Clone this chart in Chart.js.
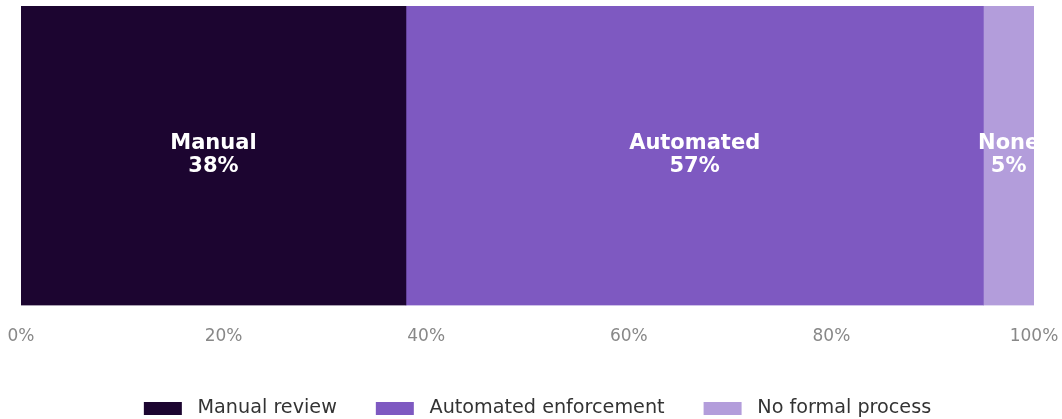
<!DOCTYPE html>
<html>
<head>
<meta charset="utf-8">
<script src="https://cdn.jsdelivr.net/npm/chart.js@4"></script>
<style>
  html, body { margin: 0; padding: 0; background: #fff; }
  #wrap { width: 1062px; height: 419px; }
</style>
</head>
<body>
<div id="wrap"><canvas id="processChart"></canvas></div>
<script>
// Data
const categories = ["Process"];
const seriesNames = ["Manual review", "Automated enforcement", "No formal process"];
const shortLabels = ["Manual", "Automated", "None"];
const seriesValues = [38, 57, 5];
const seriesColors = ["#1c0530", "#7e59c1", "#b39ddb"];
const xTicks = [0, 20, 40, 60, 80, 100];

// Draw the label text in the middle of each segment
const segmentLabels = {
  id: "segmentLabels",
  afterDatasetsDraw(chart) {
    const ctx = chart.ctx;
    ctx.save();
    ctx.fillStyle = "#ffffff";
    ctx.font = "bold 21px 'DejaVu Sans'";
    ctx.textAlign = "center";
    ctx.textBaseline = "middle";
    chart.data.datasets.forEach((ds, i) => {
      const bar = chart.getDatasetMeta(i).data[0];
      const x = (bar.x + bar.base) / 2;
      ctx.fillText(shortLabels[i], x, bar.y - 12);
      ctx.fillText(ds.data[0] + "%", x, bar.y + 11);
    });
    ctx.restore();
  },
};

// nudge the legend a bit to the right, like the original
const legendShift = {
  id: "legendShift",
  afterLayout(chart) {
    if (chart.legend) {
      chart.legend.left += 10;
      chart.legend.right += 10;
    }
  },
};

const ctx = document.getElementById("processChart").getContext("2d");
new Chart(ctx, {
  type: "bar",
  data: {
    labels: categories,
    datasets: seriesNames.map((name, i) => ({
      label: name,
      data: [seriesValues[i]],
      backgroundColor: seriesColors[i],
      borderWidth: 0,
      barPercentage: 1,
      categoryPercentage: 1,
    })),
  },
  options: {
    indexAxis: "y",
    responsive: true,
    maintainAspectRatio: false,
    animation: false,
    layout: {
      padding: { left: 21, right: 28, top: 6, bottom: -9 },
    },
    scales: {
      x: {
        stacked: true,
        min: 0,
        max: 100,
        grid: { display: false },
        border: { display: false },
        afterBuildTicks(axis) {
          axis.ticks = xTicks.map((v) => ({ value: v }));
        },
        afterFit(axis) {
          axis.paddingLeft = 0;
          axis.paddingRight = 0;
        },
        ticks: {
          padding: 13,
          color: "#888888",
          font: { family: "'DejaVu Sans'", size: 17 },
          callback: (v) => v + "%",
        },
      },
      y: {
        stacked: true,
        display: false,
      },
    },
    plugins: {
      legend: {
        position: "bottom",
        labels: {
          boxWidth: 38,
          boxHeight: 13,
          padding: 39,
          color: "#333333",
          font: { family: "'DejaVu Sans'", size: 19.2 },
          generateLabels(chart) {
            const items = Chart.defaults.plugins.legend.labels.generateLabels(chart);
            items.forEach((it) => { it.text = " " + it.text; });
            return items;
          },
        },
      },
      tooltip: { enabled: false },
    },
  },
  plugins: [segmentLabels, legendShift],
});
</script>
</body>
</html>
